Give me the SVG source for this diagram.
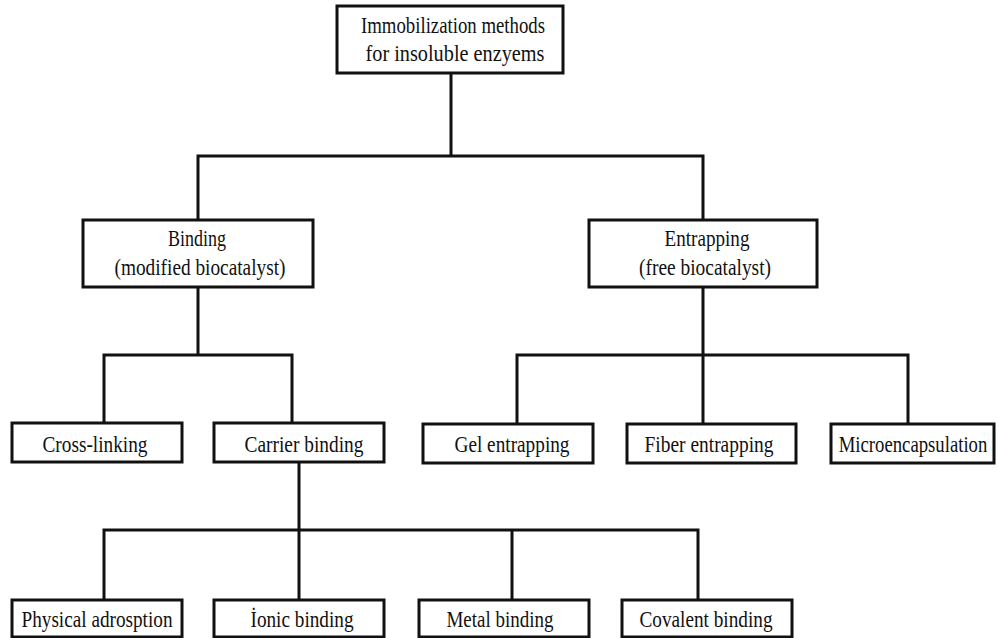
<svg xmlns="http://www.w3.org/2000/svg" width="998" height="638" viewBox="0 0 998 638">
<style>
.box{fill:#fff;stroke:#111;stroke-width:3}
.con{fill:none;stroke:#111;stroke-width:3}
text{font-family:"Liberation Serif","Times New Roman",serif;font-size:24px;fill:#111;text-anchor:middle}
</style>
<rect width="998" height="638" fill="#fff"/>
<g id="connectors">
<path class="con" d="M451 73V156M198 220V156H703V220"/>
<path class="con" d="M198 287V355M104 423V355H292V423"/>
<path class="con" d="M703 287V424M517 424V355H908V424"/>
<path class="con" d="M299 462V530M104 600V530H698V600M299 530V600M512 530V600"/>
</g>
<g id="root"><rect class="box" x="337" y="6" width="226" height="67"/>
<text x="453" y="33" textLength="184" lengthAdjust="spacingAndGlyphs">Immobilization methods</text>
<text x="455" y="61" textLength="179" lengthAdjust="spacingAndGlyphs">for insoluble enzyems</text></g>
<g id="binding"><rect class="box" x="83" y="220" width="230" height="67"/>
<text x="197" y="246" textLength="58" lengthAdjust="spacingAndGlyphs">Binding</text>
<text x="200" y="275" textLength="171" lengthAdjust="spacingAndGlyphs">(modified biocatalyst)</text></g>
<g id="entrapping"><rect class="box" x="589" y="220" width="228" height="67"/>
<text x="707" y="246" textLength="85" lengthAdjust="spacingAndGlyphs">Entrapping</text>
<text x="705" y="275" textLength="132" lengthAdjust="spacingAndGlyphs">(free biocatalyst)</text></g>
<g id="crosslinking"><rect class="box" x="12" y="423" width="170" height="39"/>
<text x="95" y="452" textLength="105" lengthAdjust="spacingAndGlyphs">Cross-linking</text></g>
<g id="carrier"><rect class="box" x="214" y="423" width="170" height="39"/>
<text x="304" y="452" textLength="119" lengthAdjust="spacingAndGlyphs">Carrier binding</text></g>
<g id="gel"><rect class="box" x="423" y="424" width="170" height="39"/>
<text x="512" y="452" textLength="115" lengthAdjust="spacingAndGlyphs">Gel entrapping</text></g>
<g id="fiber"><rect class="box" x="627" y="424" width="169" height="39"/>
<text x="709" y="452" textLength="129" lengthAdjust="spacingAndGlyphs">Fiber entrapping</text></g>
<g id="micro"><rect class="box" x="831" y="424" width="163" height="39"/>
<text transform="translate(913 452) scale(0.78 1)" x="0" y="0">Microencapsulation</text></g>
<g id="physical"><rect class="box" x="12" y="600" width="170" height="37"/>
<text x="97" y="627" textLength="151" lengthAdjust="spacingAndGlyphs">Physical adrosption</text></g>
<g id="ionic"><rect class="box" x="214" y="600" width="170" height="37"/>
<text x="302" y="627" textLength="103" lengthAdjust="spacingAndGlyphs">İonic binding</text></g>
<g id="metal"><rect class="box" x="419" y="600" width="170" height="37"/>
<text x="500" y="627" textLength="107" lengthAdjust="spacingAndGlyphs">Metal binding</text></g>
<g id="covalent"><rect class="box" x="622" y="600" width="170" height="37"/>
<text x="706" y="627" textLength="133" lengthAdjust="spacingAndGlyphs">Covalent binding</text></g>
</svg>
